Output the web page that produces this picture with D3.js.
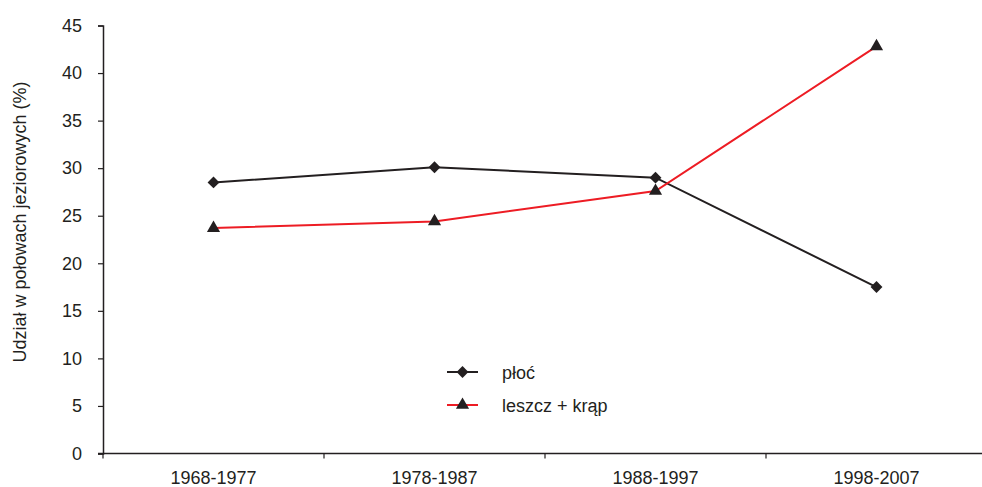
<!DOCTYPE html>
<html>
<head>
<meta charset="utf-8">
<script src="https://cdn.jsdelivr.net/npm/d3@7.9.0/dist/d3.min.js"></script>
<style>
  body { margin: 0; background: #fff; }
  svg text { font-family: "Liberation Sans", Arial, sans-serif; fill: #231f20; }
</style>
</head>
<body>
<svg id="chart" width="982" height="487"></svg>
<script>
// data
const periods = ["1968-1977", "1978-1987", "1988-1997", "1998-2007"];
const ploc = [28.5, 30.1, 29.0, 17.5];
const leszcz = [23.7, 24.4, 27.6, 42.8];
const yTicks = [0, 5, 10, 15, 20, 25, 30, 35, 40, 45];
const seriesNames = ["płoć", "leszcz + krąp"];

const svg = d3.select("#chart");
const margin = { left: 103, right: -5, top: 25.5, bottom: 33.5 };
const w = 982 - margin.left - margin.right;
const h = 487 - margin.top - margin.bottom;

const x = d3.scaleBand().domain(periods).range([0, w]);
const y = d3.scaleLinear().domain([0, 45]).range([h, 0]);

const g = svg.append("g").attr("transform", `translate(${margin.left},${margin.top})`);

// y axis
const yAxis = g.append("g")
  .call(d3.axisLeft(y).tickValues(yTicks).tickSize(5).tickPadding(16));
yAxis.select(".domain").attr("stroke", "#231f20").attr("stroke-width", 1.5);
yAxis.selectAll(".tick line").attr("stroke", "#231f20").attr("stroke-width", 1.2);
yAxis.selectAll("text").style("font-size", "18px").attr("fill", "#231f20");

// x axis - ticks on band boundaries
const xAxis = g.append("g").attr("transform", `translate(0,${h})`);
xAxis.append("line")
  .attr("x1", -5).attr("x2", w)
  .attr("stroke", "#231f20").attr("stroke-width", 1.5);
const bounds = periods.map(p => x(p)).concat([w]);
xAxis.selectAll(".bt").data(bounds).join("line")
  .attr("x1", d => d).attr("x2", d => d)
  .attr("y1", 0).attr("y2", 5)
  .attr("stroke", "#231f20").attr("stroke-width", 1.2);
xAxis.selectAll(".lbl").data(periods).join("text")
  .attr("x", d => x(d) + x.bandwidth() / 2)
  .attr("y", 30)
  .attr("text-anchor", "middle")
  .style("font-size", "18px")
  .text(d => d);

// y axis title
svg.append("text")
  .attr("transform", "translate(26,222) rotate(-90)")
  .attr("text-anchor", "middle")
  .style("font-size", "18px")
  .text("Udział w połowach jeziorowych (%)");

const cx = d => x(d) + x.bandwidth() / 2;
const line = d3.line().x(d => cx(d.p)).y(d => y(d.v));

const diamond = d3.symbol().type(d3.symbolDiamond2).size(90);
const triangle = d3.symbol().type(d3.symbolTriangle).size(75);

const series = [
  { name: seriesNames[0], vals: ploc, color: "#231f20", sym: diamond },
  { name: seriesNames[1], vals: leszcz, color: "#ed1c24", sym: triangle }
];

series.forEach(s => {
  const pts = periods.map((p, i) => ({ p, v: s.vals[i] }));
  g.append("path").datum(pts)
    .attr("fill", "none")
    .attr("stroke", s.color)
    .attr("stroke-width", 2)
    .attr("d", line);
  g.selectAll(null).data(pts).join("path")
    .attr("transform", d => `translate(${cx(d.p)},${y(d.v)})`)
    .attr("d", s.sym())
    .attr("fill", "#231f20");
});

// legend
const legend = svg.append("g").attr("transform", "translate(447,372)");
series.forEach((s, i) => {
  const row = legend.append("g").attr("transform", `translate(0,${i * 33})`);
  row.append("line").attr("x1", 0).attr("x2", 31)
    .attr("stroke", s.color).attr("stroke-width", 2);
  row.append("path").attr("transform", "translate(15.5,0)")
    .attr("d", s.sym()).attr("fill", "#231f20");
  row.append("text").attr("x", 55).attr("y", 7)
    .style("font-size", "18px").text(s.name);
});
</script>
</body>
</html>
